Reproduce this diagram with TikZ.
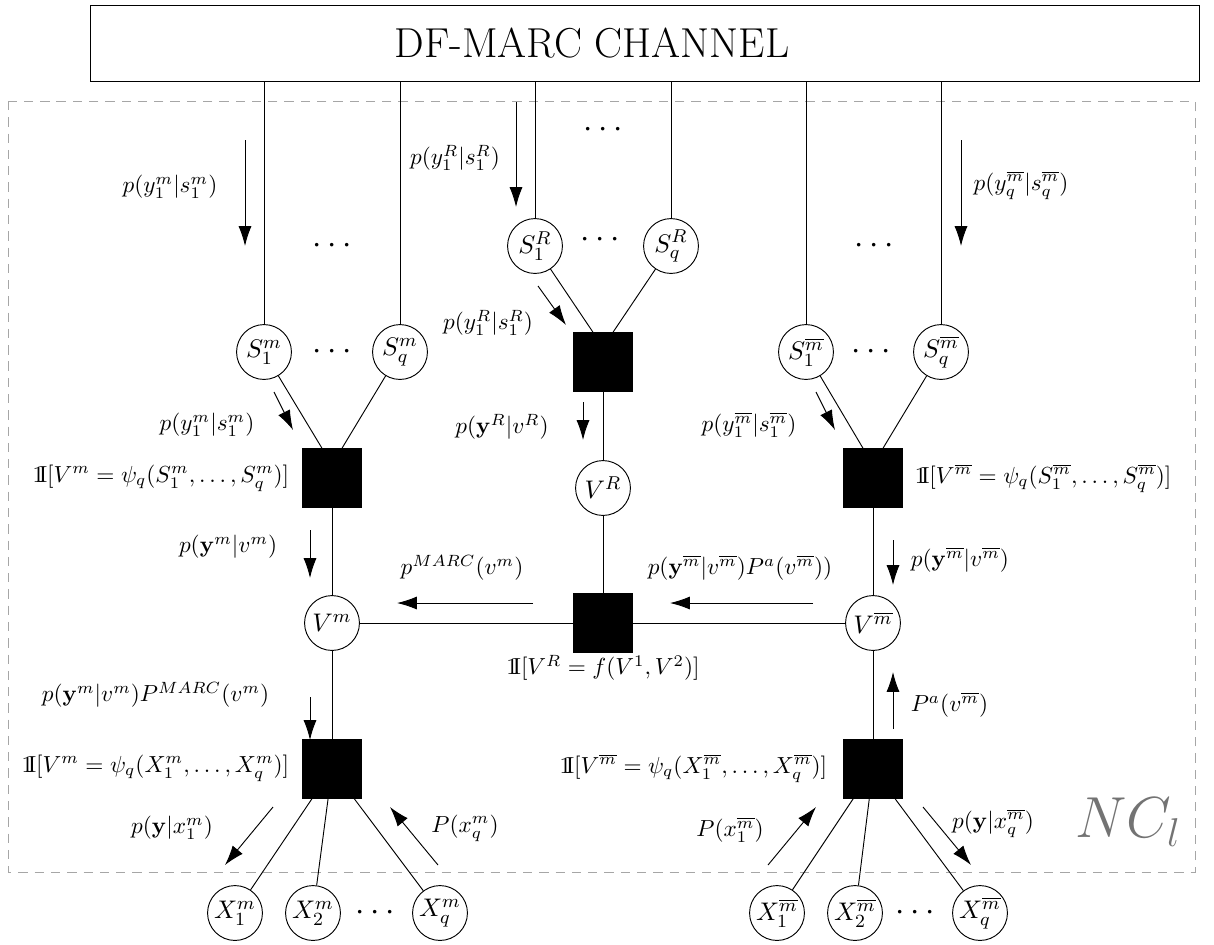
\documentclass[tikz,border=0pt]{standalone}
\usepackage{amsmath}
\usetikzlibrary{arrows.meta, positioning}
\newcommand{\indic}{\mathrm{1\mkern-4.2mu I}}

\begin{document}
\begin{tikzpicture}[x=0.43pt, y=-0.43pt,
  var/.style={circle, draw, minimum size=23.6pt, inner sep=0pt, font=\fontsize{11}{13}\selectfont},
  factor/.style={rectangle, draw, fill=black, minimum size=25.2pt, inner sep=0pt},
  dots/.style={inner sep=0pt, font=\Large},
  arrow/.style={-{Latex[length=8.5pt, width=5.6pt]}},
  lbl/.style={inner sep=1pt}
]
\useasboundingbox (0,0) rectangle (1214,944);

\node[draw, minimum width=477pt, minimum height=32.7pt] (channel) at (645,43) {};
\node[font=\fontsize{18}{22}\selectfont] (title) at (592,43) {DF-MARC CHANNEL};
\draw[gray!70, dash pattern=on 4pt off 3pt] (8,101) rectangle (1195,872); % NC box
\node[text=black!55, font=\fontsize{26}{30}\selectfont] (nc) at (1128,822) {$NC_l$};

% variable nodes
\node[var] (S1m) at (264,352) {$S_1^m$};
\node[var] (Sqm) at (400,352) {$S_q^m$};
\node[var] (S1R) at (535,246) {$S_1^R$};
\node[var] (SqR) at (671,246) {$S_q^R$};
\node[var] (S1b) at (806,352) {$S_1^{\overline{m}}$};
\node[var] (Sqb) at (941,352) {$S_q^{\overline{m}}$};

\node[var] (Vm) at (332,623) {$V^m$};
\node[var] (VR) at (603,488) {$V^R$};
\node[var] (Vb) at (873,623) {$V^{\overline{m}}$};

\node[var] (X1m) at (235,913) {$X_1^m$};
\node[var] (X2m) at (313,913) {$X_2^m$};
\node[var] (Xqm) at (440,913) {$X_q^m$};
\node[var] (X1b) at (777,913) {$X_1^{\overline{m}}$};
\node[var] (X2b) at (855,913) {$X_2^{\overline{m}}$};
\node[var] (Xqb) at (980,913) {$X_q^{\overline{m}}$};

% factor nodes
\node[factor] (Fm) at (332,478) {};
\node[factor] (FR) at (603,362) {};
\node[factor] (Fb) at (873,478) {};
\node[factor] (FC) at (603,623) {};
\node[factor] (FXm) at (332,769) {};
\node[factor] (FXb) at (873,769) {};

% dots
\node[dots] (d1) at (606,130) {$\cdots$};
\node[dots] (d2) at (335,246) {$\cdots$};
\node[dots] (d3) at (877,246) {$\cdots$};
\node[dots] (d4) at (335,352) {$\cdots$};
\node[dots] (d5) at (603,240) {$\cdots$};
\node[dots] (d6) at (874,352) {$\cdots$};
\node[dots] (d7) at (378,913) {$\cdots$};
\node[dots] (d8) at (918,913) {$\cdots$};

% channel outputs
\foreach \s in {S1m, Sqm, S1R, SqR, S1b, Sqb}
  \draw (\s) -- (\s |- channel.south);

% edges
\draw (S1m) -- ([xshift=-4.3pt]Fm.north);
\draw (Sqm) -- ([xshift=4.3pt]Fm.north);
\draw (Fm) -- (Vm);
\draw (Vm) -- (FXm);
\draw (FXm) -- (X1m);
\draw (FXm) -- (X2m);
\draw (FXm) -- (Xqm);
\draw (S1R) -- ([xshift=-4.3pt]FR.north);
\draw (SqR) -- ([xshift=4.3pt]FR.north);
\draw (FR) -- (VR);
\draw (VR) -- (FC);
\draw (Vm) -- (FC);
\draw (FC) -- (Vb);
\draw (S1b) -- ([xshift=-4.3pt]Fb.north);
\draw (Sqb) -- ([xshift=4.3pt]Fb.north);
\draw (Fb) -- (Vb);
\draw (Vb) -- (FXb);
\draw (FXb) -- (X1b);
\draw (FXb) -- (X2b);
\draw (FXb) -- (Xqb);

% messages, left
\draw[arrow] (245,140) -- (245,246);
\node[lbl] (mA) at (170,187) {$p(y_1^m|s_1^m)$};
\draw[arrow] (274,392) -- (293,430);
\node[lbl] (mB) at (207,425) {$p(y_1^m|s_1^m)$};
\node[lbl, anchor=east] (fA) at (292,478) {$\indic[V^m=\psi_q(S_1^m,\ldots,S_q^m)]$};
\draw[arrow] (310,530) -- (310,578);
\node[lbl, anchor=east] (mC) at (280,547) {$p(\mathbf{y}^m|v^m)$};
\draw[arrow] (310,697) -- (310,740);
\node[lbl, anchor=east] (mD) at (272,695) {$p(\mathbf{y}^m|v^m)P^{MARC}(v^m)$};
\node[lbl, anchor=east] (fB) at (292,768) {$\indic[V^m=\psi_q(X_1^m,\ldots,X_q^m)]$};
\draw[arrow] (273,807) -- (225,865);
\node[lbl] (mE) at (172,828) {$p(\mathbf{y}|x_1^m)$};
\draw[arrow] (438,865) -- (390,807);
\node[lbl] (mF) at (465,828) {$P(x_q^m)$};

% messages, centre
\draw[arrow] (516,102) -- (516,207);
\node[lbl] (mG) at (455,158) {$p(y_1^R|s_1^R)$};
\draw[arrow] (538,286) -- (566,325);
\node[lbl] (mH) at (488,323) {$p(y_1^R|s_1^R)$};
\draw[arrow] (583,402) -- (583,440);
\node[lbl] (mI) at (502,427) {$p(\mathbf{y}^R|v^R)$};
\draw[arrow] (533,603) -- (397,603);
\node[lbl] (mJ) at (462,568) {$p^{MARC}(v^m)$};
\draw[arrow] (813,603) -- (670,603);
\node[lbl] (mK) at (740,568) {$p(\mathbf{y}^{\overline{m}}|v^{\overline{m}})P^a(v^{\overline{m}}))$};
\node[lbl] (fC) at (603,668) {$\indic[V^R=f(V^1,V^2)]$};

% messages, right
\draw[arrow] (961,140) -- (961,246);
\node[lbl] (mL) at (1021,185) {$p(y_q^{\overline{m}}|s_q^{\overline{m}})$};
\draw[arrow] (816,392) -- (835,430);
\node[lbl] (mM) at (749,425) {$p(y_1^{\overline{m}}|s_1^{\overline{m}})$};
\node[lbl, anchor=west] (fD) at (912,478) {$\indic[V^{\overline{m}}=\psi_q(S_1^{\overline{m}},\ldots,S_q^{\overline{m}})]$};
\draw[arrow] (893,540) -- (893,585);
\node[lbl, anchor=west] (mN) at (908,560) {$p(\mathbf{y}^{\overline{m}}|v^{\overline{m}})$};
\draw[arrow] (893,729) -- (893,672);
\node[lbl, anchor=west] (mO) at (908,705) {$P^a(v^{\overline{m}})$};
\node[lbl, anchor=east] (fE) at (830,768) {$\indic[V^{\overline{m}}=\psi_q(X_1^{\overline{m}},\ldots,X_q^{\overline{m}})]$};
\draw[arrow] (768,865) -- (816,807);
\node[lbl] (mP) at (730,830) {$P(x_1^{\overline{m}})$};
\draw[arrow] (923,807) -- (971,865);
\node[lbl] (mQ) at (993,823) {$p(\mathbf{y}|x_q^{\overline{m}})$};

\end{tikzpicture}
\end{document}
